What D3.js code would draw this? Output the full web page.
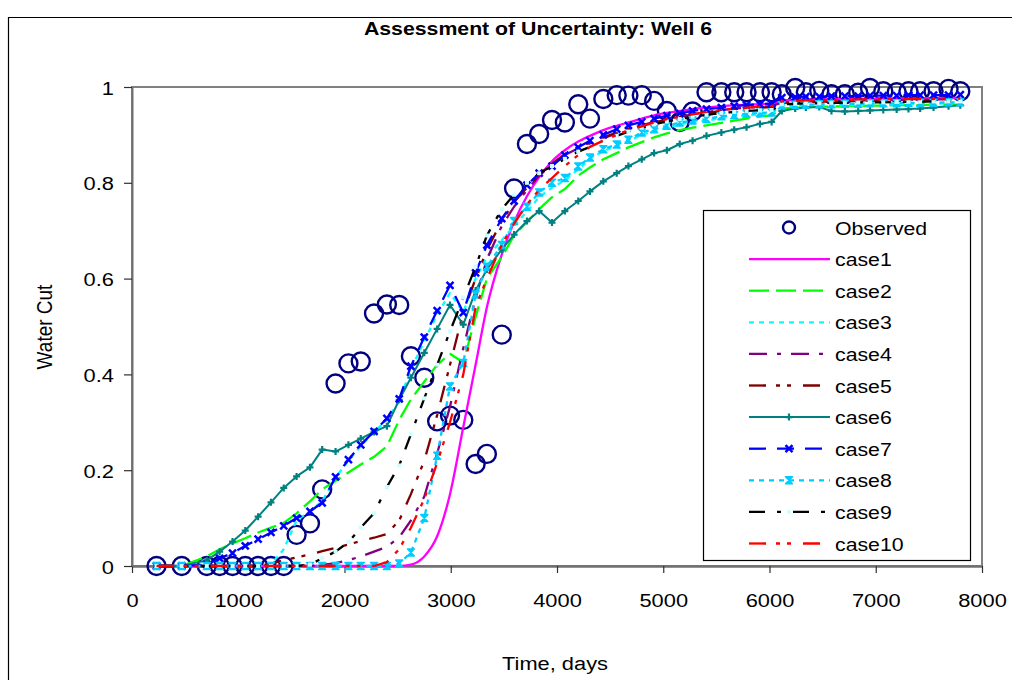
<!DOCTYPE html>
<html>
<head>
<meta charset="utf-8">
<script src="https://cdn.jsdelivr.net/npm/d3@7"></script>
<style>
  html, body { margin: 0; padding: 0; background: #fff; }
  svg { display: block; font-family: Arial, "Liberation Sans", sans-serif; }
</style>
</head>
<body>
<svg id="chart" width="1012" height="680"></svg>
<script>
// Report times (days) shared by the observed data and the simulation cases
const days = [231,468,704,825,946,1066,1187,1308,1428,1549,1675,1790,1916,2037,2153,2278,2399,2515,2625,2751,
  2872,2993,3118,3234,3340,3480,3596,3717,3832,3953,4074,4200,4310,4436,4562,4672,4798,4914,5034,5155,
  5276,5407,5547,5668,5784,5910,6020,6116,6242,6342,6468,6583,6709,6835,6946,7071,7197,7308,7418,7544,7685,7796];

const observed = [0,0,0,0,0,0,0,0,0,
  0.065,0.089,0.160,0.381,0.423,0.427,0.527,0.546,0.545,0.438,
  0.393,0.302,0.314,0.305,0.213,0.234,0.483,0.788,0.881,0.902,
  0.931,0.926,0.964,0.934,0.975,0.983,0.982,0.983,0.971,0.950,
  0.927,0.949,0.989,0.989,0.989,0.989,0.989,0.989,0.985,0.998,
  0.989,0.992,0.985,0.985,0.988,0.998,0.991,0.989,0.991,0.991,
  0.991,0.996,0.991];

const case1 = [0,0,0,0,0,0,0,0,0,0,0,0,0,0,0,0,0,0,
  0.003,0.02,0.062,0.15,0.29,0.42,0.54,0.65,0.718,0.772,
  0.812,0.845,0.868,0.886,0.898,0.910,0.919,0.926,0.934,0.941,
  0.946,0.950,0.954,0.957,0.960,0.962,0.963,0.964,0.965,0.972,
  0.973,0.973,0.974,0.974,0.975,0.975,0.975,0.976,0.976,0.976,
  0.976,0.977,0.977,0.977];

const case2 = [0,0,0.02,0.035,0.047,0.058,0.07,0.08,0.09,0.11,
  0.135,0.16,0.178,0.195,0.212,0.228,0.25,0.305,0.348,0.385,
  0.42,0.443,0.425,0.52,0.60,0.645,0.69,0.718,0.745,0.77,
  0.787,0.815,0.832,0.849,0.862,0.874,0.885,0.895,0.903,0.91,
  0.915,0.92,0.925,0.93,0.934,0.938,0.941,0.955,0.957,0.958,
  0.959,0.959,0.96,0.96,0.961,0.961,0.962,0.962,0.962,0.963,
  0.963,0.963];

const case3 = [0,0,0,0,0,0,0,0.003,0.035,0.095,
  0.115,0.135,0.185,0.22,0.25,0.28,0.305,0.345,0.41,0.47,
  0.525,0.57,0.53,0.60,0.645,0.68,0.71,0.74,0.77,0.79,
  0.805,0.828,0.85,0.866,0.877,0.887,0.90,0.908,0.915,0.922,
  0.927,0.93,0.935,0.938,0.941,0.943,0.945,0.958,0.96,0.961,
  0.961,0.962,0.962,0.963,0.963,0.964,0.964,0.965,0.965,0.965,
  0.966,0.966];

const case4 = [0,0,0,0,0,0,0,0,0,0,
  0,0.002,0.006,0.012,0.02,0.03,0.04,0.06,0.095,0.145,
  0.235,0.333,0.455,0.56,0.64,0.71,0.75,0.785,0.815,0.84,
  0.858,0.872,0.882,0.893,0.903,0.912,0.92,0.927,0.933,0.938,
  0.943,0.948,0.952,0.955,0.957,0.958,0.96,0.968,0.969,0.97,
  0.97,0.971,0.971,0.972,0.972,0.972,0.973,0.973,0.973,0.974,
  0.974,0.974];

const case5 = [0,0,0,0,0,0,0,0.005,0.012,0.018,
  0.024,0.031,0.038,0.045,0.052,0.059,0.067,0.095,0.15,0.22,
  0.315,0.42,0.53,0.60,0.66,0.72,0.76,0.79,0.815,0.84,
  0.86,0.875,0.885,0.895,0.905,0.913,0.92,0.926,0.932,0.937,
  0.941,0.946,0.95,0.953,0.955,0.957,0.958,0.967,0.968,0.969,
  0.969,0.97,0.97,0.971,0.971,0.972,0.972,0.972,0.973,0.973,
  0.973,0.973];

const case6 = [0,0,0.012,0.030,0.051,0.074,0.103,0.133,0.163,0.187,
  0.206,0.243,0.239,0.253,0.266,0.280,0.292,0.347,0.393,0.445,
  0.495,0.545,0.504,0.575,0.619,0.661,0.692,0.720,0.741,0.717,
  0.741,0.762,0.782,0.803,0.820,0.835,0.849,0.862,0.868,0.881,
  0.888,0.898,0.905,0.911,0.916,0.923,0.927,0.950,0.955,0.957,
  0.958,0.950,0.949,0.950,0.951,0.952,0.953,0.954,0.955,0.957,
  0.960,0.962];

const case7 = [0,0,0.003,0.016,0.027,0.042,0.056,0.070,0.084,0.100,
  0.114,0.132,0.186,0.222,0.253,0.281,0.308,0.349,0.417,0.478,
  0.533,0.586,0.529,0.612,0.67,0.725,0.762,0.795,0.82,0.835,
  0.858,0.874,0.888,0.90,0.912,0.92,0.927,0.934,0.94,0.945,
  0.95,0.954,0.957,0.96,0.962,0.964,0.966,0.978,0.979,0.98,
  0.98,0.981,0.981,0.981,0.982,0.982,0.982,0.983,0.983,0.983,
  0.983,0.984];

const case8 = [0,0,0,0,0,0,0,0,0,0,
  0,0,0,0,0,0,0,0.005,0.028,0.10,
  0.23,0.375,0.424,0.567,0.625,0.67,0.72,0.75,0.78,0.80,
  0.81,0.834,0.853,0.87,0.88,0.89,0.905,0.912,0.919,0.926,
  0.93,0.933,0.939,0.941,0.944,0.946,0.947,0.962,0.963,0.963,
  0.964,0.964,0.965,0.965,0.966,0.966,0.966,0.967,0.967,0.967,
  0.968,0.968];

const case9 = [0,0,0,0,0,0,0,0,0,0,
  0.003,0.016,0.03,0.05,0.08,0.11,0.165,0.21,0.275,0.35,
  0.42,0.49,0.56,0.625,0.69,0.745,0.775,0.80,0.82,0.835,
  0.85,0.865,0.875,0.888,0.898,0.907,0.915,0.922,0.928,0.933,
  0.938,0.942,0.946,0.948,0.95,0.951,0.952,0.964,0.965,0.966,
  0.966,0.967,0.967,0.968,0.968,0.968,0.969,0.969,0.969,0.97,
  0.97,0.97];

const case10 = [0,0,0,0,0,0,0,0,0,0,
  0,0,0,0,0,0,0.008,0.035,0.08,0.14,
  0.215,0.30,0.40,0.54,0.60,0.67,0.715,0.755,0.785,0.81,
  0.835,0.858,0.875,0.888,0.90,0.91,0.918,0.926,0.933,0.938,
  0.943,0.948,0.952,0.955,0.957,0.959,0.96,0.97,0.971,0.972,
  0.972,0.973,0.973,0.974,0.974,0.974,0.975,0.975,0.975,0.975,
  0.976,0.976];

const xTicks = [0, 1000, 2000, 3000, 4000, 5000, 6000, 7000, 8000];
const yTicks = [0, 0.2, 0.4, 0.6, 0.8, 1];

const titleText = "Assessment of Uncertainty: Well 6";
const xTitle = "Time, days";
const yTitle = "Water Cut";
const observedName = "Observed";

// Simulation case styling
const cases = [
  { name: "case1",  values: case1,  color: "#FF00FF", dash: null,               marker: null, curve: d3.curveMonotoneX },
  { name: "case2",  values: case2,  color: "#00FF00", dash: "20,7",             marker: null },
  { name: "case3",  values: case3,  color: "#00FFFF", dash: "5,5",              marker: null },
  { name: "case4",  values: case4,  color: "#800080", dash: "18,10,4,10",       marker: null },
  { name: "case5",  values: case5,  color: "#800000", dash: "17,10,4,7,4,12",   marker: null },
  { name: "case6",  values: case6,  color: "#008080", dash: null,               marker: "plus" },
  { name: "case7",  values: case7,  color: "#0000FF", dash: "17,11",            marker: "cross" },
  { name: "case8",  values: case8,  color: "#00CCFF", dash: "5,5",              marker: "hourglass" },
  { name: "case9",  values: case9,  color: "#000000", dash: "16,12,4,12",       marker: "square" },
  { name: "case10", values: case10, color: "#FF0000", dash: "17,10,4,7,4,12",   marker: null }
];

const svg = d3.select("#chart");
const SX = 1.15; // horizontal stretch of all lettering

const plot = { left: 132, right: 982, top: 87, bottom: 566 };
const x = d3.scaleLinear().domain([0, 8000]).range([plot.left, plot.right]);
const y = d3.scaleLinear().domain([0, 1]).range([plot.bottom, plot.top]);

// chart frame
svg.append("rect").attr("x", 0).attr("y", 0).attr("width", 1012).attr("height", 680).attr("fill", "#fff");
svg.append("path").attr("d", "M8.5,680V17.5H1012").attr("fill", "none").attr("stroke", "#000").attr("stroke-width", 1.2);

// title
svg.append("text")
  .attr("transform", `translate(538,35) scale(${SX},1)`)
  .attr("text-anchor", "middle")
  .attr("font-size", 18.5).attr("font-weight", "bold").attr("fill", "#000")
  .text(titleText);

// plot area
svg.append("rect")
  .attr("x", plot.left).attr("y", plot.top)
  .attr("width", plot.right - plot.left).attr("height", plot.bottom - plot.top)
  .attr("fill", "#fff").attr("stroke", "#808080").attr("stroke-width", 2);

// axes
const xAxis = svg.append("g")
  .attr("transform", `translate(0,${plot.bottom})`)
  .call(d3.axisBottom(x).tickValues(xTicks).tickSize(7).tickSizeOuter(0).tickFormat(d3.format("d")));
xAxis.select(".domain").attr("stroke", "#707070").attr("stroke-width", 2.5);
xAxis.selectAll(".tick line").attr("stroke", "#303030").attr("stroke-width", 1.2);
xAxis.selectAll(".tick text")
  .attr("y", 0).attr("dy", 0)
  .attr("transform", `translate(0,41) scale(${SX},1)`)
  .attr("font-size", 19).attr("font-family", "Arial, 'Liberation Sans', sans-serif").attr("fill", "#000");

const yAxis = svg.append("g")
  .attr("transform", `translate(${plot.left},0)`)
  .call(d3.axisLeft(y).tickValues(yTicks).tickSize(8).tickSizeOuter(0).tickFormat(d => String(+d.toFixed(1))));
yAxis.select(".domain").attr("stroke", "#707070").attr("stroke-width", 2);
yAxis.selectAll(".tick line").attr("stroke", "#303030").attr("stroke-width", 1.2);
yAxis.selectAll(".tick text")
  .attr("x", 0).attr("dy", 0)
  .attr("transform", `translate(-18,7) scale(${SX},1)`)
  .attr("font-size", 19).attr("font-family", "Arial, 'Liberation Sans', sans-serif").attr("fill", "#000");

// axis titles
svg.append("text")
  .attr("transform", `translate(555,670) scale(${SX},1)`)
  .attr("text-anchor", "middle").attr("font-size", 19).attr("fill", "#000")
  .text(xTitle);
svg.append("text")
  .attr("transform", `translate(52,327) rotate(-90) scale(1,${SX})`)
  .attr("text-anchor", "middle").attr("font-size", 19).attr("fill", "#000")
  .text(yTitle);

// marker shapes
const markerPaths = {
  plus: "M-3.5,0H3.5M0,-3.5V3.5",
  cross: "M-3.5,-3.5L3.5,3.5M-3.5,3.5L3.5,-3.5",
  hourglass: "M-3.5,-3.5H3.5L-3.5,3.5H3.5Z",
  square: "M-2,-2H2V2H-2Z"
};
function drawMarker(g, type, color, cx, cy) {
  const p = g.append("path").attr("d", markerPaths[type]).attr("transform", `translate(${cx},${cy})`);
  if (type === "plus") p.attr("fill", "none").attr("stroke", color).attr("stroke-width", 2.2);
  else if (type === "cross") p.attr("fill", "none").attr("stroke", color).attr("stroke-width", 2.5);
  else if (type === "hourglass") p.attr("fill", color).attr("stroke", color).attr("stroke-width", 1.5).attr("stroke-linejoin", "round");
  else if (type === "square") p.attr("fill", "#CCFFFF").attr("stroke", "none");
}

const series = svg.append("g");

// observed data: open circles
series.append("g").selectAll("circle")
  .data(observed)
  .join("circle")
  .attr("cx", (d, i) => x(days[i]))
  .attr("cy", d => y(d))
  .attr("r", 9)
  .attr("fill", "none")
  .attr("stroke", "#000080")
  .attr("stroke-width", 2.4);

// simulation cases
cases.forEach(c => {
  const g = series.append("g");
  const line = d3.line()
    .x((d, i) => x(days[i]))
    .y(d => y(d))
    .curve(c.curve || d3.curveLinear);
  g.append("path")
    .attr("d", line(c.values))
    .attr("fill", "none")
    .attr("stroke", c.color)
    .attr("stroke-width", c.name === "case6" ? 2 : 2.3)
    .attr("stroke-dasharray", c.dash)
    .attr("stroke-linejoin", "round");
  if (c.marker) {
    c.values.forEach((v, i) => drawMarker(g, c.marker, c.color, x(days[i]), y(v)));
  }
});

// legend
const legend = svg.append("g");
legend.append("rect")
  .attr("x", 703.5).attr("y", 210.5).attr("width", 267).attr("height", 350)
  .attr("fill", "#fff").attr("stroke", "#000").attr("stroke-width", 1.2);

const rowY = i => 227.5 + i * 31.6;
legend.append("circle")
  .attr("cx", 789).attr("cy", rowY(0)).attr("r", 6)
  .attr("fill", "none").attr("stroke", "#000080").attr("stroke-width", 2.4);
legend.append("text")
  .attr("transform", `translate(835,${rowY(0) + 7}) scale(${SX},1)`)
  .attr("font-size", 18.5).attr("fill", "#000").text(observedName);

cases.forEach((c, k) => {
  const yy = rowY(k + 1);
  legend.append("line")
    .attr("x1", 749).attr("x2", 830).attr("y1", yy).attr("y2", yy)
    .attr("stroke", c.color).attr("stroke-width", c.name === "case6" ? 2 : 2.3)
    .attr("stroke-dasharray", c.dash);
  if (c.marker) drawMarker(legend, c.marker, c.color, 789, yy);
  legend.append("text")
    .attr("transform", `translate(835,${yy + 7}) scale(${SX},1)`)
    .attr("font-size", 18.5).attr("fill", "#000").text(c.name);
});
</script>
</body>
</html>
